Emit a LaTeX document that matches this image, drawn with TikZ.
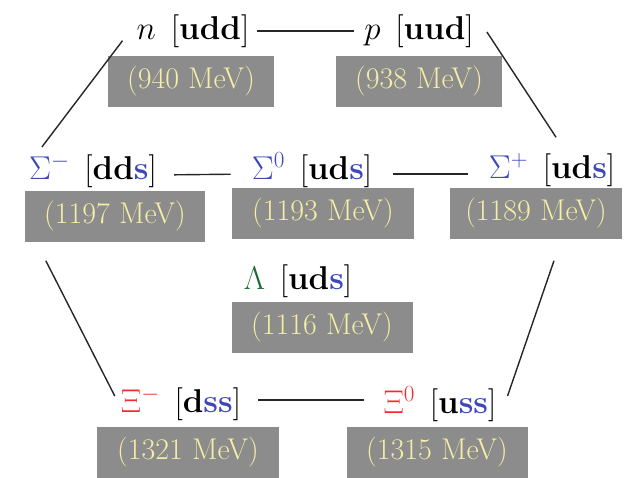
\RequirePackage{fix-cm}
\documentclass[tikz,border=0pt]{standalone}
\usepackage{xcolor}
\definecolor{sblue}{RGB}{62,72,185}
\definecolor{lgreen}{RGB}{25,105,55}
\definecolor{xred}{RGB}{240,45,45}
\definecolor{boxgray}{RGB}{140,140,140}
\definecolor{masstxt}{RGB}{245,238,165}
\newcommand{\qk}[1]{[\textbf{#1}]}
\newcommand{\sq}{\textcolor{sblue}{s}}
\tikzset{
  lbl/.style={inner sep=0pt, font=\fontsize{33}{36}\selectfont},
  mass/.style={fill=boxgray, text=masstxt, font=\fontsize{30}{34}\selectfont,
    minimum height=51, inner xsep=6, inner ysep=0},
  conn/.style={draw=black!85, line width=1.4pt}
}
\begin{document}
\begin{tikzpicture}[x=1pt,y=-1pt]
\useasboundingbox (0,0) rectangle (632,477);
% nucleons
\node[lbl] (nl) at (193,31) {$n$\hspace{.45em}\qk{udd}};
\node[mass,minimum width=166] (nm) at (191,81) {(940 MeV)};
\node[lbl] (pl) at (419,31) {$p$\hspace{.45em}\qk{uud}};
\node[mass,minimum width=166] (pm) at (419,81) {(938 MeV)};
% sigmas
\node[lbl] (sml) at (93,171) {\textcolor{sblue}{$\Sigma^-$}\hspace{.45em}[\textbf{dd\sq}]};
\node[mass,minimum width=180] (smm) at (115,216) {(1197 MeV)};
\node[lbl] (s0l) at (312,170) {\textcolor{sblue}{$\Sigma^0$}\hspace{.45em}[\textbf{ud\sq}]};
\node[mass,minimum width=182] (s0m) at (323,213) {(1193 MeV)};
\node[lbl] (spl) at (552,170) {\textcolor{sblue}{$\Sigma^+$}\hspace{.45em}[\textbf{ud\sq}]};
\node[mass,minimum width=172] (spm) at (536,213) {(1189 MeV)};
% lambda
\node[lbl] (ll) at (298,281) {\textcolor{lgreen}{$\Lambda$}\hspace{.45em}[\textbf{ud\sq}]};
\node[mass,minimum width=181] (lm) at (322,327) {(1116 MeV)};
% xis
\node[lbl] (xml) at (181,404) {\textcolor{xred}{$\Xi^-$}\hspace{.45em}[\textbf{d\sq\sq}]};
\node[mass,minimum width=182] (xmm) at (188,452) {(1321 MeV)};
\node[lbl] (x0l) at (440,404) {\textcolor{xred}{$\Xi^0$}\hspace{.45em}[\textbf{u\sq\sq}]};
\node[mass,minimum width=181] (x0m) at (437,452) {(1315 MeV)};
% connectors
\draw[conn, shorten <=8, shorten >=10] (nl.east) -- (pl.west);
\draw[conn, shorten <=17, shorten >=21] ([yshift=-4]sml.east) -- ([yshift=-4]s0l.west);
\draw[conn, shorten <=21, shorten >=21] ([yshift=-4]s0l.east) -- ([yshift=-4]spl.west);
\draw[conn, shorten <=17, shorten >=19] ([yshift=4]xml.east) -- ([yshift=4]x0l.west);
\draw[conn] ([shift={(-14,-7)}]nl.south west) -- ([shift={(13,-7)}]sml.north west);
\draw[conn] ([shift={(13,1)}]pl.east) -- ([shift={(4,-16)}]spl.north);
\draw[conn] ([shift={(21,19)}]smm.south west) -- ([shift={(-6,-8)}]xml.west);
\draw[conn] ([shift={(18,22)}]spm.south) -- ([shift={(11,-8)}]x0l.east);
\end{tikzpicture}
\end{document}
